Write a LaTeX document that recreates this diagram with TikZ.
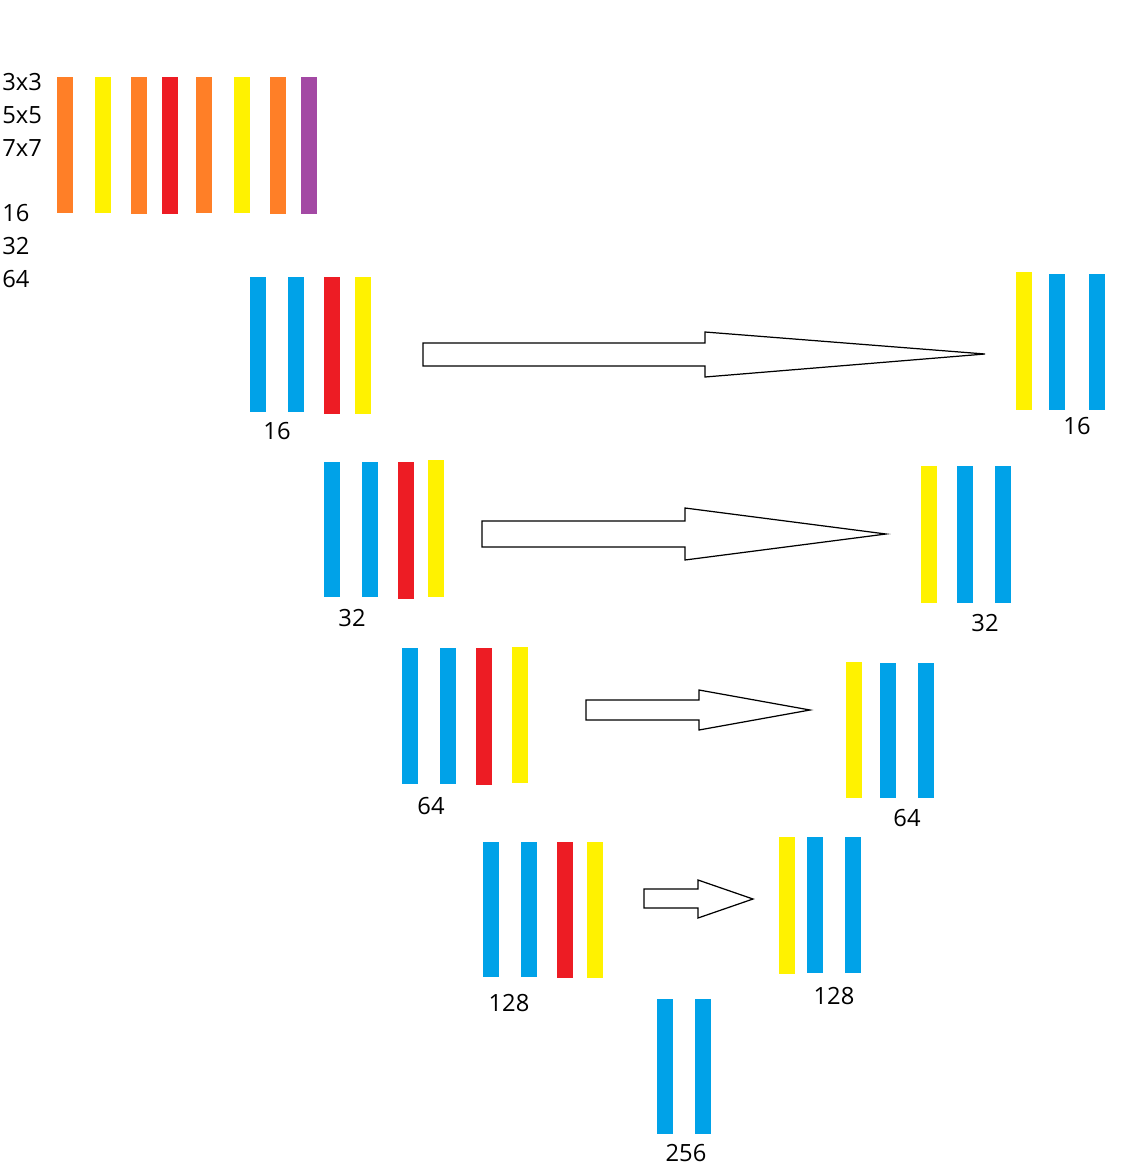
\documentclass[tikz,border=0pt]{standalone}
\usepackage{fontspec}
\setmainfont{Open Sans}
\usepackage{xcolor}
\usepackage{tikz}
\usetikzlibrary{positioning}

\definecolor{cblue}{HTML}{00A2E8}
\definecolor{cred}{HTML}{ED1C24}
\definecolor{cyellow}{HTML}{FFF200}
\definecolor{corange}{HTML}{FF7F27}
\definecolor{cpurple}{HTML}{A349A4}

\begin{document}
\begin{tikzpicture}[x=0.02cm,y=-0.02cm,
		lbl/.style={inner sep=0pt,font=\fontsize{13.5}{16}\selectfont},
		blockarrow/.style={draw=black,line width=0.7pt,fill=white,line join=miter}]
		\useasboundingbox (0,0) rectangle (1134,1170);
		% legend
		\node[lbl,anchor=west] (k3) at (2,82) {3x3};
		\node[lbl,anchor=west] (k5) at (2,115) {5x5};
		\node[lbl,anchor=west] (k7) at (2,148) {7x7};
		\node[lbl,anchor=west] (c16) at (2,213) {16};
		\node[lbl,anchor=west] (c32) at (2,246) {32};
		\node[lbl,anchor=west] (c64) at (2,279) {64};
		\fill[corange] (57,77) rectangle (73,213);
		\fill[cyellow] (95,77) rectangle (111,213);
		\fill[corange] (131,77) rectangle (147,214);
		\fill[cred] (162,77) rectangle (178,214);
		\fill[corange] (196,77) rectangle (212,213);
		\fill[cyellow] (234,77) rectangle (250,213);
		\fill[corange] (270,77) rectangle (286,214);
		\fill[cpurple] (301,77) rectangle (317,214);
		% encoder 16
		\fill[cblue] (250,277) rectangle (266,412);
		\fill[cblue] (288,277) rectangle (304,412);
		\fill[cred] (324,277) rectangle (340,414);
		\fill[cyellow] (355,277) rectangle (371,414);
		\node[lbl] (e16) at (277,431) {16};
		% decoder 16
		\fill[cyellow] (1016,272) rectangle (1032,410);
		\fill[cblue] (1049,274) rectangle (1065,410);
		\fill[cblue] (1089,274) rectangle (1105,410);
		\node[lbl] (d16) at (1077,426) {16};
		\draw[blockarrow] (423,343) -- (705,343) -- (705,332) -- (985,354)
			-- (705,377) -- (705,366) -- (423,366) -- cycle;
		% encoder 32
		\fill[cblue] (324,462) rectangle (340,597);
		\fill[cblue] (362,462) rectangle (378,597);
		\fill[cred] (398,462) rectangle (414,599);
		\fill[cyellow] (428,460) rectangle (444,597);
		\node[lbl] (e32) at (352,618) {32};
		% decoder 32
		\fill[cyellow] (921,466) rectangle (937,603);
		\fill[cblue] (957,466) rectangle (973,603);
		\fill[cblue] (995,466) rectangle (1011,603);
		\node[lbl] (d32) at (985,623) {32};
		\draw[blockarrow] (482,521) -- (685,521) -- (685,508) -- (886,534)
			-- (685,560) -- (685,547) -- (482,547) -- cycle;
		% encoder 64
		\fill[cblue] (402,648) rectangle (418,784);
		\fill[cblue] (440,648) rectangle (456,784);
		\fill[cred] (476,648) rectangle (492,785);
		\fill[cyellow] (512,647) rectangle (528,783);
		\node[lbl] (e64) at (431,806) {64};
		% decoder 64
		\fill[cyellow] (846,662) rectangle (862,798);
		\fill[cblue] (880,663) rectangle (896,798);
		\fill[cblue] (918,663) rectangle (934,798);
		\node[lbl] (d64) at (907,818) {64};
		\draw[blockarrow] (586,700) -- (699,700) -- (699,690) -- (810,710)
			-- (699,730) -- (699,720) -- (586,720) -- cycle;
		% encoder 128
		\fill[cblue] (483,842) rectangle (499,977);
		\fill[cblue] (521,842) rectangle (537,977);
		\fill[cred] (557,842) rectangle (573,978);
		\fill[cyellow] (587,842) rectangle (603,978);
		\node[lbl] (e128) at (509,1003) {128};
		% decoder 128
		\fill[cyellow] (779,837) rectangle (795,974);
		\fill[cblue] (807,837) rectangle (823,973);
		\fill[cblue] (845,837) rectangle (861,973);
		\node[lbl] (d128) at (834,996) {128};
		\draw[blockarrow] (644,889) -- (698,889) -- (698,880) -- (753,899)
			-- (698,918) -- (698,908) -- (644,908) -- cycle;
		% bottom 256
		\fill[cblue] (657,999) rectangle (673,1134);
		\fill[cblue] (695,999) rectangle (711,1134);
		\node[lbl] (b256) at (686,1153) {256};
	\end{tikzpicture}
\end{document}
